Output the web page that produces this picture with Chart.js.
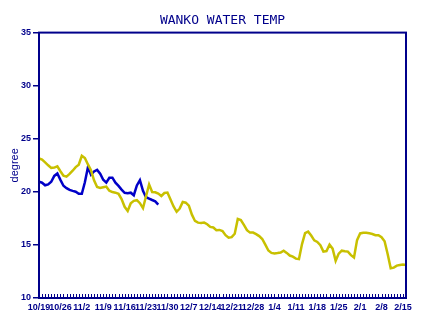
<!DOCTYPE html>
<html>
<head>
<meta charset="utf-8">
<script src="https://cdn.jsdelivr.net/npm/chart.js@4.4.1/dist/chart.umd.min.js"></script>
<style>
  body { margin: 0; background: #fff; }
</style>
</head>
<body>
<canvas id="c" width="424" height="325"></canvas>
<script>
// daily readings, 10/19 .. 2/16
const startMonth = 10, startDay = 19, dayCount = 121;
const tickLabels = ['10/19','10/26','11/2','11/9','11/16','11/23','11/30','12/7','12/14',
  '12/21','12/28','1/4','1/11','1/18','1/25','2/1','2/8','2/15'];
const yTicks = [10, 15, 20, 25, 30, 35];

// yellow series (whole season)
const tempA = [23.16,23.03,22.78,22.5,22.26,22.28,22.41,21.94,21.53,21.43,
  21.69,21.99,22.33,22.55,23.4,23.18,22.58,22.03,21.09,20.46,
  20.36,20.43,20.49,20.11,19.98,19.92,19.81,19.32,18.59,18.2,
  18.93,19.15,19.21,18.93,18.46,19.59,20.7,19.98,19.96,19.84,
  19.61,19.89,19.93,19.27,18.62,18.12,18.42,19.05,18.98,18.7,
  17.85,17.26,17.1,17.06,17.1,16.95,16.7,16.64,16.39,16.41,
  16.3,15.92,15.68,15.73,16.05,17.45,17.35,16.88,16.39,16.16,
  16.16,16.02,15.83,15.56,15.03,14.47,14.25,14.2,14.23,14.28,
  14.46,14.25,14.0,13.9,13.71,13.67,15.08,16.11,16.25,15.88,
  15.43,15.28,14.98,14.37,14.42,15.03,14.65,13.5,14.18,14.46,
  14.4,14.37,14.04,13.81,15.45,16.08,16.14,16.14,16.09,16.03,
  15.92,15.92,15.73,15.34,14.14,12.8,12.86,13.05,13.1,13.15,
  13.1];

// blue series (stops early)
const tempB = [20.96,20.86,20.62,20.7,20.95,21.5,21.73,21.13,20.57,20.35,
  20.18,20.09,20.01,19.81,19.82,20.9,22.31,21.61,21.92,22.07,
  21.7,21.14,20.87,21.33,21.33,20.86,20.56,20.21,19.91,19.87,
  19.92,19.68,20.6,21.1,20.1,19.49,19.36,19.23,19.11,18.8];

const NAVY = '#00008b';

// build day labels
const labels = [];
const d0 = new Date(2009, startMonth - 1, startDay);
for (let i = 0; i < dayCount; i++) {
  const d = new Date(d0.getTime() + i * 86400000);
  labels.push((d.getMonth() + 1) + '/' + d.getDate());
}

// inward x ticks + box round the plot
const frame = {
  id: 'frame',
  afterDraw(chart) {
    const { ctx, chartArea: a, scales: { x } } = chart;
    ctx.save();
    ctx.strokeStyle = NAVY;
    ctx.lineWidth = 1;
    ctx.beginPath();
    for (let i = 0; i < x.ticks.length; i++) {
      const px = Math.round(x.getPixelForTick(i)) + 0.5;
      ctx.moveTo(px, a.bottom);
      ctx.lineTo(px, a.bottom - 4);
    }
    ctx.stroke();
    ctx.lineWidth = 2;
    ctx.strokeRect(a.left, a.top, a.right - a.left, a.bottom - a.top);
    ctx.restore();
  }
};

new Chart(document.getElementById('c'), {
  type: 'line',
  data: {
    labels: labels,
    datasets: [
      { data: tempA, borderColor: '#c8c000', borderWidth: 2.5, pointRadius: 0, tension: 0 },
      { data: tempB, borderColor: '#0000c8', borderWidth: 2.5, pointRadius: 0, tension: 0 }
    ]
  },
  options: {
    responsive: false,
    animation: false,
    layout: { padding: { left: 0, right: 18, top: 0, bottom: 0 } },
    plugins: {
      legend: { display: false },
      tooltip: { enabled: false },
      title: {
        display: true,
        text: 'WANKO WATER TEMP',
        color: NAVY,
        fullSize: false,
        font: { family: 'DejaVu Sans Mono', size: 13, weight: 'normal' },
        padding: { top: 13, bottom: 4 }
      }
    },
    scales: {
      x: {
        offset: false,
        grid: { display: false, drawTicks: false },
        border: { color: NAVY, width: 2 },
        afterFit: s => { s.height = 27; },
        ticks: {
          autoSkip: false,
          maxRotation: 0,
          minRotation: 0,
          padding: 4,
          color: NAVY,
          font: { family: 'Liberation Sans', size: 9, weight: 'bold' },
          callback: (v, i) => (i % 7 === 0 ? tickLabels[i / 7] : '')
        }
      },
      y: {
        min: yTicks[0],
        max: yTicks[yTicks.length - 1],
        afterFit: s => { s.width = 39; },
        afterBuildTicks: s => { s.ticks = yTicks.map(v => ({ value: v })); },
        grid: { drawOnChartArea: false, tickLength: 6, color: NAVY, lineWidth: 1.5 },
        border: { color: NAVY, width: 2 },
        ticks: {
          padding: 2,
          color: NAVY,
          font: { family: 'Liberation Sans', size: 9, weight: 'bold' }
        },
        title: {
          display: true,
          text: 'degree',
          color: NAVY,
          padding: { top: 8, bottom: 0 },
          font: { family: 'Liberation Sans', size: 11 }
        }
      }
    }
  },
  plugins: [frame]
});
</script>
</body>
</html>
